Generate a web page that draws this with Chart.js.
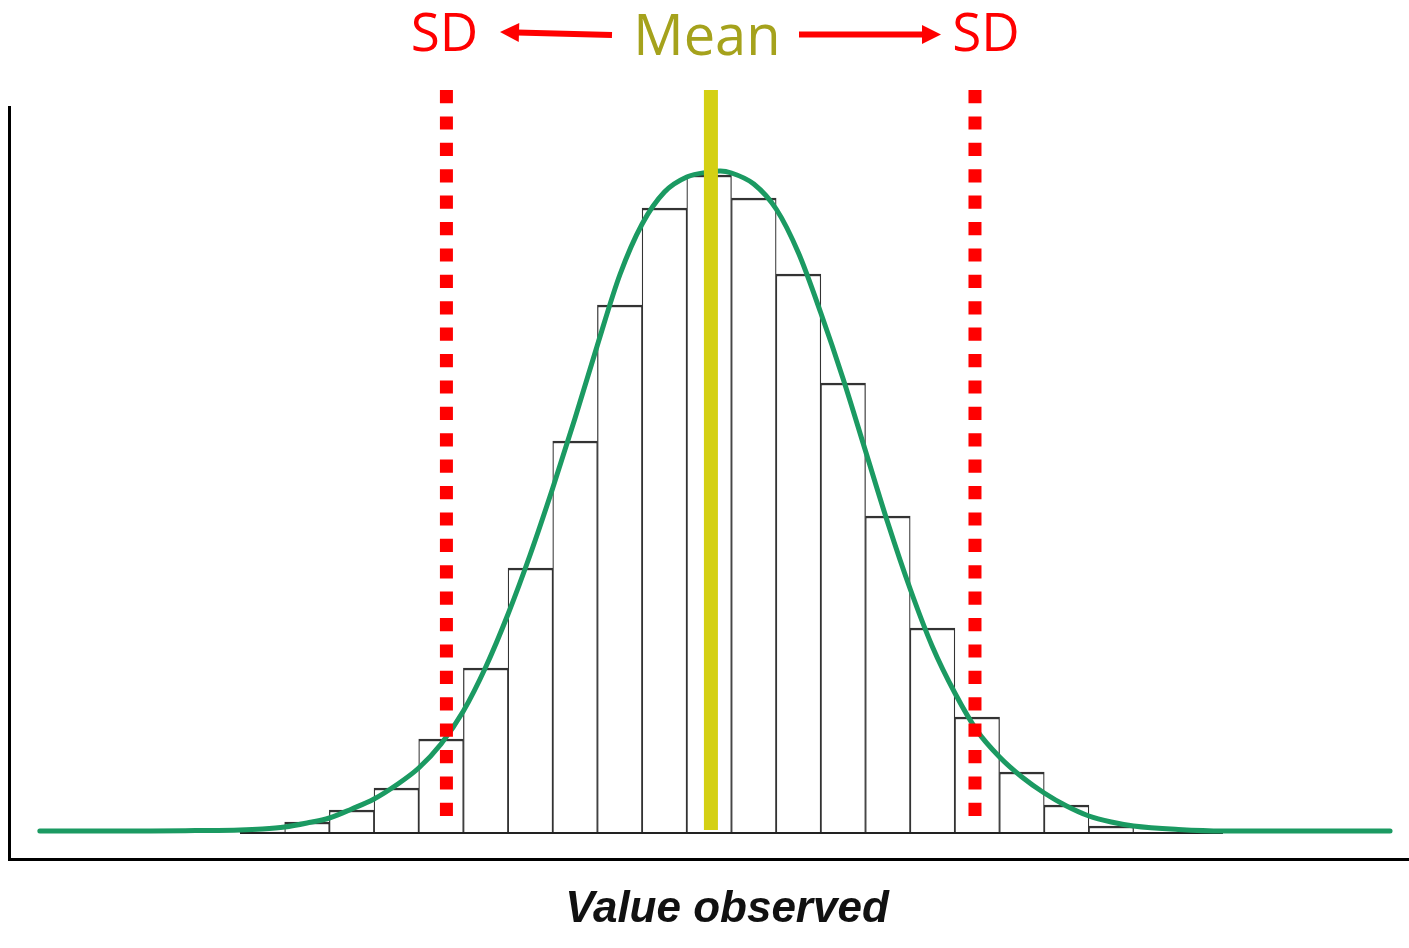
<!DOCTYPE html>
<html>
<head>
<meta charset="utf-8">
<script src="https://cdn.jsdelivr.net/npm/chart.js@4"></script>
<style>
  html, body { margin: 0; padding: 0; background: #fff; }
  #wrap { width: 1409px; height: 948px; position: relative; }
</style>
</head>
<body>
<div id="wrap"><canvas id="c"></canvas></div>
<script>
// ---- data (x in bin units, y in frequency units) ----
const binCenters = [0.5, 1.5, 2.5, 3.5, 4.5, 5.5, 6.5, 7.5, 8.5, 9.5, 10.5, 11.5, 12.5, 13.5, 14.5, 15.5, 16.5, 17.5, 18.5, 19.5];
const binCounts  = [0.5, 5.5, 11.5, 22.5, 47, 82.5, 132.5, 196, 264, 312.5, 329, 317.5, 279.5, 225, 158.5, 102.5, 58, 30.5, 14, 3.5];

const curveX = [-4.48, -2, -1, 0, 0.5, 1, 1.5, 2, 2.5, 3, 3.5, 4, 4.5, 5, 5.5, 6, 6.5, 7, 7.5, 8, 8.5, 9, 9.5, 10, 10.5, 10.75, 11, 11.5, 12, 12.5, 13, 13.5, 14, 14.5, 15, 15.5, 16, 16.5, 17, 17.5, 18, 18.5, 19, 19.5, 20, 21, 22, 25.74];
const curveY = [1, 1, 1.2, 1.5, 2, 3, 5, 7.5, 12, 17, 24, 32.5, 44.5, 61, 83, 109.5, 139.5, 172.5, 207.5, 244, 279, 304.5, 320.5, 328, 330.5, 331, 330, 324.5, 312, 290, 260, 227, 191, 155, 122, 93, 70, 51, 38, 28, 20, 13.5, 8.5, 5.5, 3.5, 1.75, 1, 1];

const baselineX = [0, 22];
const meanValue = 10.54;
const sdValues = [4.62, 16.45];
const markerTop = 371.5;
const sdBottom = 8.5;
const meanBottom = 1.5;

const xLabel = 'Value observed';
const sdLabel = 'SD';
const meanLabel = 'Mean';

// ---- build datasets ----
const barData = binCenters.map((x, i) => ({ x: x, y: binCounts[i] }));
const curveData = curveX.map((x, i) => ({ x: x, y: curveY[i] }));
const baselineData = baselineX.map(x => ({ x: x, y: 0 }));

const annotPlugin = {
  id: 'annot',
  afterDatasetsDraw(chart) {
    const ctx = chart.ctx;
    const xs = chart.scales.x;
    ctx.save();
    // texts
    ctx.textAlign = 'center';
    ctx.textBaseline = 'alphabetic';
    ctx.font = '53px "Open Sans", "Noto Sans", sans-serif';
    ctx.fillStyle = '#ff0000';
    ctx.fillText(sdLabel, xs.getPixelForValue(sdValues[0]) - 2, 51);
    ctx.fillText(sdLabel, xs.getPixelForValue(sdValues[1]) + 11, 51);
    ctx.font = '56px "Open Sans", "Noto Sans", sans-serif';
    ctx.fillStyle = '#a5a21c';
    ctx.fillText(meanLabel, xs.getPixelForValue(meanValue) - 4, 55);

    // axis label
    ctx.font = 'italic bold 44px "Liberation Sans", Arial, sans-serif';
    ctx.fillStyle = '#111111';
    ctx.fillText(xLabel, 727, 922);

    // arrows
    function arrow(x1, y1, x2, y2) {
      const ang = Math.atan2(y2 - y1, x2 - x1);
      const headLen = 19, headHalf = 9.5;
      const bx = x2 - headLen * Math.cos(ang), by = y2 - headLen * Math.sin(ang);
      ctx.strokeStyle = '#ff0000';
      ctx.fillStyle = '#ff0000';
      ctx.lineWidth = 6;
      ctx.lineCap = 'butt';
      ctx.beginPath();
      ctx.moveTo(x1, y1);
      ctx.lineTo(bx + 2 * Math.cos(ang), by + 2 * Math.sin(ang));
      ctx.stroke();
      ctx.beginPath();
      ctx.moveTo(x2, y2);
      ctx.lineTo(bx - headHalf * Math.sin(ang), by + headHalf * Math.cos(ang));
      ctx.lineTo(bx + headHalf * Math.sin(ang), by - headHalf * Math.cos(ang));
      ctx.closePath();
      ctx.fill();
    }
    arrow(612, 35, 500, 32);
    arrow(799, 34.5, 941, 34.5);
    ctx.restore();
  }
};

new Chart(document.getElementById('c'), {
  type: 'bar',
  data: {
    datasets: [
      {
        type: 'line', label: 'mean', data: [{ x: meanValue, y: markerTop }, { x: meanValue, y: meanBottom }],
        borderColor: '#d4d013', borderWidth: 14, borderCapStyle: 'butt', pointRadius: 0, clip: false, order: 1
      },
      {
        type: 'line', label: 'sd-', data: [{ x: sdValues[0], y: markerTop }, { x: sdValues[0], y: sdBottom }],
        borderColor: '#ff0000', borderWidth: 13, borderDash: [13.2, 13.2], borderCapStyle: 'butt', pointRadius: 0, clip: false, order: 1
      },
      {
        type: 'line', label: 'sd+', data: [{ x: sdValues[1], y: markerTop }, { x: sdValues[1], y: sdBottom }],
        borderColor: '#ff0000', borderWidth: 13, borderDash: [13.2, 13.2], borderCapStyle: 'butt', pointRadius: 0, clip: false, order: 1
      },
      {
        type: 'line', label: 'curve', data: curveData,
        borderColor: '#1b9a62', borderWidth: 5, borderCapStyle: 'round', cubicInterpolationMode: 'monotone',
        pointRadius: 0, clip: false, order: 2
      },
      {
        type: 'line', label: 'baseline', data: baselineData,
        borderColor: '#222222', borderWidth: 2, pointRadius: 0, order: 3
      },
      {
        type: 'bar', label: 'hist', data: barData,
        backgroundColor: '#ffffff', borderColor: '#333333',
        borderWidth: { top: 2.5, left: 1.25, right: 1.25, bottom: 0 }, borderSkipped: 'bottom',
        barPercentage: 1, categoryPercentage: 1, grouped: false, order: 4
      }
    ]
  },
  options: {
    responsive: true,
    maintainAspectRatio: false,
    animation: false,
    events: [],
    layout: { padding: { top: 107, left: 9.5, right: 0, bottom: 89 } },
    plugins: { legend: { display: false }, tooltip: { enabled: false } },
    scales: {
      x: {
        type: 'linear', min: -5.159, max: 26.164, offset: false,
        grid: { display: false, drawTicks: false },
        ticks: { display: false },
        border: { display: true, color: '#000000', width: 3 }
      },
      y: {
        type: 'linear', min: -13, max: 363,
        grid: { display: false, drawTicks: false },
        ticks: { display: false },
        border: { display: true, color: '#000000', width: 3 }
      }
    }
  },
  plugins: [annotPlugin]
});
</script>
</body>
</html>
